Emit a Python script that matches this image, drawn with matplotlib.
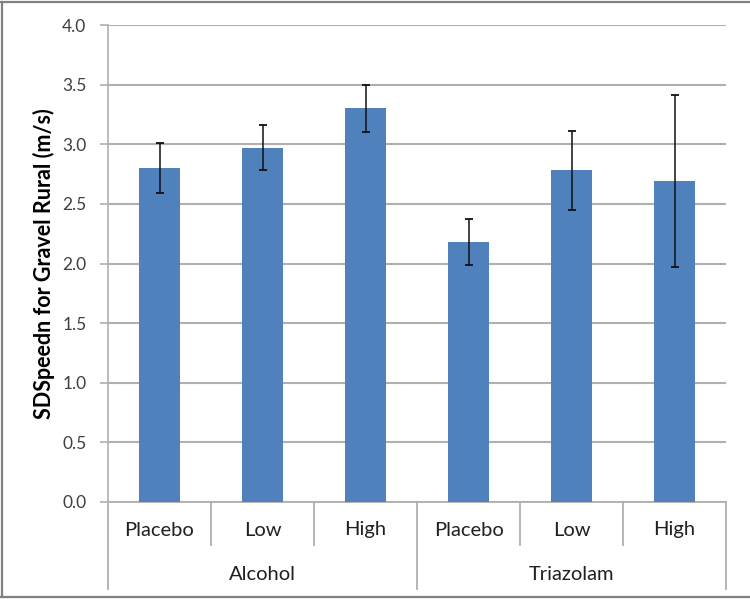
import matplotlib
matplotlib.use("Agg")
import matplotlib.pyplot as plt
from matplotlib.lines import Line2D

# data
drugs = ["Alcohol", "Triazolam"]
doses = ["Placebo", "Low", "High"]
means = [2.80, 2.97, 3.30, 2.18, 2.78, 2.69]
errs = [0.21, 0.19, 0.20, 0.19, 0.33, 0.72]

plt.rcParams['font.family'] = ['Lato', 'DejaVu Sans']

W, H = 750, 601
fig = plt.figure(figsize=(7.5, 6.01), dpi=100)
# plot area in pixels: left 108, right 726, top 25, bottom 502
ax = fig.add_axes([108/W, 1 - 502/H, 618/W, 477/H])

x = list(range(len(means)))
ax.bar(x, means, width=0.4, color='#4f81bd', zorder=3)
ax.errorbar(x, means, yerr=errs, fmt='none', ecolor='#111111', elinewidth=1.1,
            capsize=3, capthick=1.3, zorder=4)

ax.set_xlim(-0.5, 5.5)
ax.set_ylim(0, 4.0)
ax.set_yticks([i * 0.5 for i in range(9)])
ax.set_yticklabels(["%.1f" % (i * 0.5) for i in range(9)], fontsize=12.5, color='#404040')

# gridlines
ax.grid(axis='y', color='#b0b0b0', linewidth=1.5, zorder=0)
ax.set_axisbelow(True)

for s in ['top', 'right', 'bottom']:
    ax.spines[s].set_visible(False)
ax.spines['left'].set_color('#b0b0b0')
ax.spines['left'].set_linewidth(1.2)
ax.tick_params(axis='y', length=6, width=1.2, color='#b0b0b0', pad=9.5)
ax.set_xticks([])

ax.set_ylabel("SDSpeedn for Gravel Rural (m/s)", fontsize=15.5, fontweight='bold')
ax.yaxis.set_label_coords(-0.086, 0.5)

# two-level category axis drawn below the plot
trans = ax.get_xaxis_transform()
ph = 477.0
def yfrac(px):
    return -(px - 502) / ph

line_kw = dict(color='#b0b0b0', linewidth=1.3, transform=trans, clip_on=False)
ax.add_line(Line2D([-0.5, 5.5], [0, 0], **line_kw))
for b in [-0.5, 0.5, 1.5, 2.5, 3.5, 4.5, 5.5]:
    if b in (-0.5, 2.5, 5.5):
        ax.add_line(Line2D([b, b], [0, yfrac(589)], **line_kw))
    else:
        ax.add_line(Line2D([b, b], [0, yfrac(545)], **line_kw))

for i in x:
    ax.text(i, yfrac(530), doses[i % 3], ha='center', va='center',
            fontsize=14.5, color='#202020', transform=trans)
for g, name in enumerate(drugs):
    ax.text(g * 3 + 1, yfrac(575), name, ha='center', va='center',
            fontsize=14.5, color='#202020', transform=trans)

# outer frame of the chart (left, top, bottom only)
bx = dict(color='#808080', linewidth=1.6, transform=fig.transFigure)
fig.add_artist(Line2D([1.5/W, 1.5/W], [1 - 1.5/H, 1 - 597/H], **bx))
fig.add_artist(Line2D([0, 1], [1 - 1.5/H, 1 - 1.5/H], **bx))
fig.add_artist(Line2D([0, 1], [1 - 597/H, 1 - 597/H], **bx))

fig.savefig("out.png", dpi=100)
